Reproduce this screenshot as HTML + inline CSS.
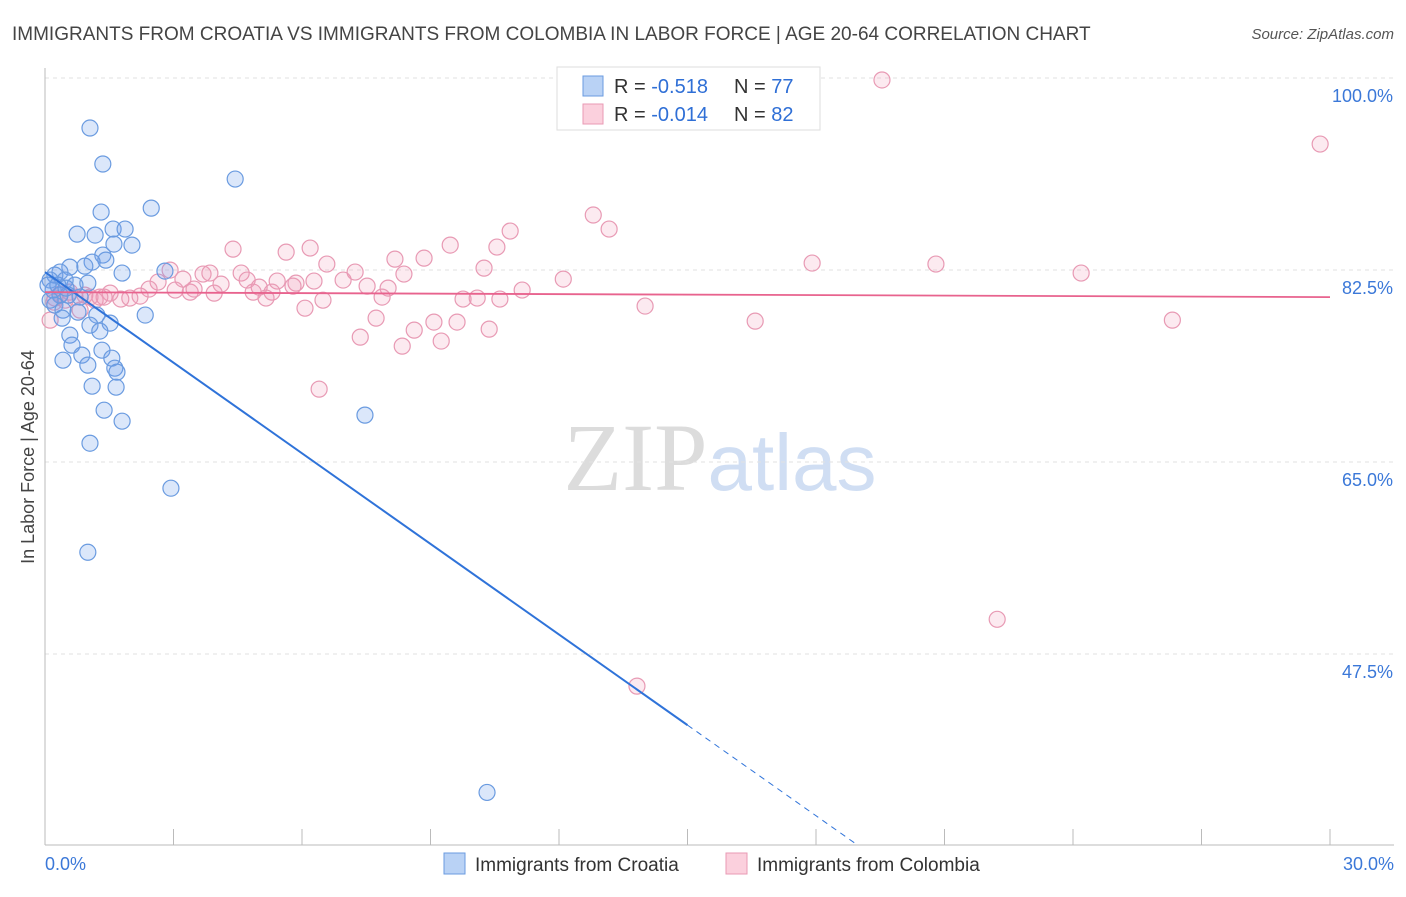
<!DOCTYPE html>
<html><head><meta charset="utf-8">
<style>
body{margin:0;background:#fff;font-family:"Liberation Sans",sans-serif;}
svg text{font-family:"Liberation Sans",sans-serif;}
</style></head>
<body>
<svg id="chart" width="1406" height="892" viewBox="0 0 1406 892" xmlns="http://www.w3.org/2000/svg">
<text x="12" y="40" font-size="19" fill="#444">IMMIGRANTS FROM CROATIA VS IMMIGRANTS FROM COLOMBIA IN LABOR FORCE | AGE 20-64 CORRELATION CHART</text>
<text x="1394" y="39" font-size="15" fill="#555" text-anchor="end" font-style="italic">Source: ZipAtlas.com</text>
<text x="720" y="490" font-size="96" text-anchor="middle"><tspan fill="#dcdcdc" font-family="Liberation Serif">ZIP</tspan><tspan fill="#d0def3" font-size="80">atlas</tspan></text>
<g id="grid"></g>
<g id="axes"></g>
<g id="pink"></g>
<g id="blue"></g>
<g id="trends"></g>
<text transform="translate(34,457) rotate(-90)" font-size="18" fill="#444" text-anchor="middle">In Labor Force | Age 20-64</text>
<g>
<rect x="557" y="67" width="263" height="63" fill="#fff" stroke="#ddd"/>
<rect x="583" y="76" width="20" height="20" fill="#b9d2f5" stroke="#6a9be0"/>
<rect x="583" y="104" width="20" height="20" fill="#fbd0dd" stroke="#e89ab4"/>
<text x="614" y="93" font-size="20" fill="#333">R = <tspan fill="#2f6fd6">-0.518</tspan></text>
<text x="734" y="93" font-size="20" fill="#333">N = <tspan fill="#2f6fd6">77</tspan></text>
<text x="614" y="121" font-size="20" fill="#333">R = <tspan fill="#2f6fd6">-0.014</tspan></text>
<text x="734" y="121" font-size="20" fill="#333">N = <tspan fill="#2f6fd6">82</tspan></text>
</g>
<g>
<rect x="444" y="853" width="21" height="21" fill="#b9d2f5" stroke="#6a9be0"/>
<text x="475" y="871" font-size="19" fill="#333">Immigrants from Croatia</text>
<rect x="726" y="853" width="21" height="21" fill="#fbd0dd" stroke="#e89ab4"/>
<text x="757" y="871" font-size="19" fill="#333">Immigrants from Colombia</text>
</g>
</svg>
<script>
const yTicks=[100,82.5,65,47.5];
const yTickLabels=["100.0%","82.5%","65.0%","47.5%"];
const xTickVals=[0,3,6,9,12,15,18,21,24,27,30];
const xEndLabels=["0.0%","30.0%"];
const blueX=[1.05,1.35,4.44,2.48,1.31,0.75,1.17,1.59,1.87,1.61,2.03,1.35,1.42,1.10,1.80,2.80,0.93,0.58,0.35,0.23,0.12,0.47,0.70,1.00,0.19,0.35,0.54,0.82,0.12,0.23,0.42,0.77,0.40,1.21,2.34,1.05,1.52,1.28,0.58,0.63,1.33,0.86,1.56,0.42,1.00,1.63,1.68,1.10,1.66,1.38,1.80,7.47,1.05,2.94,1.00,10.32,0.07,0.30,0.49];
const blueY=[95.44,92.16,90.79,88.14,87.78,85.77,85.68,86.23,86.23,84.86,84.77,83.86,83.40,83.22,82.22,82.40,82.85,82.76,82.31,82.03,81.58,81.58,81.12,81.30,80.67,80.21,80.21,80.03,79.75,79.30,78.84,78.66,78.11,78.39,78.39,77.47,77.66,76.93,76.56,75.65,75.19,74.74,74.46,74.28,73.83,73.55,73.19,71.91,71.82,69.72,68.72,69.27,66.71,62.61,56.77,34.88,81.12,81.12,80.85];
const pinkX=[19.54,29.77,12.80,13.17,10.86,9.46,10.55,4.39,6.19,5.63,8.17,8.85,6.58,10.25,17.91,20.80,24.19,2.92,7.24,8.38,12.10,3.69,3.85,4.58,4.72,5.42,5.86,3.22,2.64,2.43,6.28,6.96,7.52,8.01,11.14,4.11,5.00,5.79,5.30,4.86,5.16,3.95,3.39,3.04,3.48,2.22,1.77,1.98,1.52,1.38,1.17,0.93,0.70,0.58,0.35,0.12,0.21,0.82,9.76,10.09,10.62,7.87,6.49,6.07,14.01,7.73,9.08,9.62,8.62,10.37,7.36,8.34,9.25,16.58,26.32,6.40,22.23,13.82,1.28,1.05,0.47,0.23];
const pinkY=[99.82,93.98,87.51,86.23,86.05,84.77,84.59,84.40,84.50,84.13,83.49,83.58,83.04,82.67,83.13,83.04,82.22,82.49,82.31,82.13,81.67,82.13,82.22,82.22,81.58,81.49,81.30,81.67,81.40,80.76,81.49,81.58,81.03,80.85,80.67,81.21,80.94,81.03,80.48,80.48,79.94,80.39,80.48,80.67,80.76,80.12,79.85,79.94,80.39,80.03,79.75,80.21,80.03,80.48,80.30,77.93,79.57,78.84,79.85,79.94,79.85,80.03,79.75,79.02,79.21,78.11,77.75,77.75,77.02,77.11,76.38,75.56,76.02,77.84,77.93,71.64,50.66,44.57,80.03,80.03,79.75,79.94];
const blueTrend=[82.31,-2.753];
const blueSolidEnd=15.0, blueDashEnd=18.98;
const pinkTrend=[80.48,-0.015];

const NS="http://www.w3.org/2000/svg";
const X0=45,X1=1330,Y0=78,YB=845;
const xs=v=>X0+(v/30)*(X1-X0);
const ys=v=>Y0+(100-v)*10.971;
function mk(tag,attrs,parent){const e=document.createElementNS(NS,tag);for(const k in attrs)e.setAttribute(k,attrs[k]);parent.appendChild(e);return e;}
const grid=document.getElementById('grid'),axes=document.getElementById('axes');
yTicks.forEach((t,i)=>{
  const l=mk('line',{x1:X0,x2:1394,y1:ys(t),y2:ys(t),stroke:'#e2e2e2','stroke-dasharray':'4,4'},grid);
  
  
  const tx=mk('text',{x:1393,y:ys(t)+24,'font-size':18,fill:'#3b78d8','text-anchor':'end'},axes);
  tx.textContent=yTickLabels[i];
  
  
});
const ya=mk('line',{x1:X0,x2:X0,y1:68,y2:YB,stroke:'#bbb'},axes);


const xa=mk('line',{x1:X0,x2:1394,y1:YB,y2:YB,stroke:'#bbb'},axes);


xTickVals.forEach(t=>{
  const l=mk('line',{x1:xs(t),x2:xs(t),y1:829,y2:YB,stroke:'#bbb'},axes);
  
  
});
[[0,'start',45],[30,'end',1394]].forEach((d,i)=>{
  const tx=mk('text',{x:d[2],y:870,'font-size':18,fill:'#3b78d8','text-anchor':d[1]},axes);
  tx.textContent=xEndLabels[i];
  
  
});
const pg=document.getElementById('pink');
pinkX.forEach((x,i)=>{
  const c=mk('circle',{cx:xs(x),cy:ys(pinkY[i]),r:8,fill:'rgba(242,150,180,0.2)',stroke:'#e89ab4','stroke-width':1.2},pg);
  
  
});
const bg=document.getElementById('blue');
blueX.forEach((x,i)=>{
  const c=mk('circle',{cx:xs(x),cy:ys(blueY[i]),r:8,fill:'rgba(110,160,235,0.25)',stroke:'#6a9be0','stroke-width':1.2},bg);
  
  
});
const tg=document.getElementById('trends');
const bt=v=>blueTrend[0]+blueTrend[1]*v;
const l1=mk('line',{x1:xs(0),y1:ys(bt(0)),x2:xs(blueSolidEnd),y2:ys(bt(blueSolidEnd)),stroke:'#2f73d9','stroke-width':2},tg);


const l2=mk('line',{x1:xs(blueSolidEnd),y1:ys(bt(blueSolidEnd)),x2:xs(blueDashEnd),y2:ys(bt(blueDashEnd)),stroke:'#2f73d9','stroke-width':1,'stroke-dasharray':'6,5'},tg);


const pt=v=>pinkTrend[0]+pinkTrend[1]*v;
const l3=mk('line',{x1:xs(0),y1:ys(pt(0)),x2:xs(30),y2:ys(pt(30)),stroke:'#e8638e','stroke-width':1.8},tg);


</script>
</body></html>
